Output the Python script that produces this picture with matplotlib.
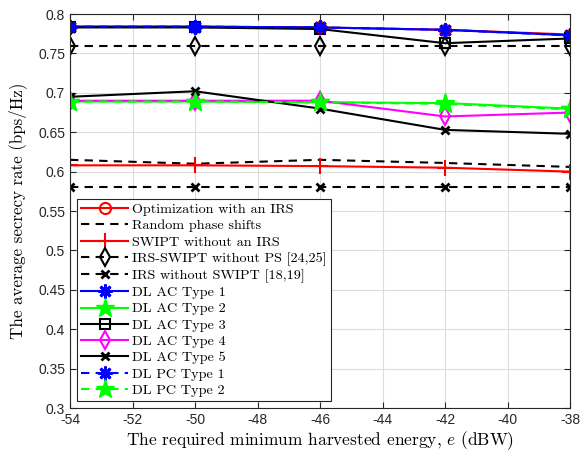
import matplotlib
matplotlib.use("Agg")
import matplotlib.pyplot as plt

# harvested energy e (dBW)
energy = [-54, -50, -46, -42, -38]

opt_irs = [0.784, 0.784, 0.783, 0.780, 0.774]
random_phase = [0.615, 0.610, 0.615, 0.611, 0.606]
swipt_no_irs = [0.608, 0.608, 0.607, 0.605, 0.600]
irs_swipt_no_ps = [0.760, 0.760, 0.760, 0.760, 0.760]
irs_no_swipt = [0.580, 0.580, 0.580, 0.580, 0.580]
dl_ac_1 = [0.784, 0.784, 0.783, 0.780, 0.773]
dl_ac_2 = [0.689, 0.689, 0.688, 0.687, 0.680]
dl_ac_3 = [0.783, 0.783, 0.781, 0.763, 0.769]
dl_ac_4 = [0.690, 0.690, 0.690, 0.670, 0.675]
dl_ac_5 = [0.695, 0.702, 0.680, 0.653, 0.648]
dl_pc_1 = [0.784, 0.784, 0.783, 0.780, 0.773]
dl_pc_2 = [0.689, 0.689, 0.688, 0.686, 0.679]

x_ticks = [-54, -52, -50, -48, -46, -44, -42, -40, -38]
y_ticks = [0.3, 0.35, 0.4, 0.45, 0.5, 0.55, 0.6, 0.65, 0.7, 0.75, 0.8]

plt.rcParams['font.family'] = ['Liberation Sans', 'DejaVu Sans']
plt.rcParams['mathtext.fontset'] = 'cm'

fig = plt.figure(figsize=(5.82, 4.53), dpi=100)
ax = fig.add_axes([0.1203, 0.0993, 0.8591, 0.8697])

lw = 1.5
dash = (0, (4, 3))
ast = (8, 2, 0)
ax.plot(energy, opt_irs, color='red', lw=lw, marker='o', ms=8, mfc='none', mew=1.5,
        label='Optimization with an IRS')
ax.plot(energy, random_phase, color='black', lw=lw, ls=dash,
        label='Random phase shifts')
ax.plot(energy, swipt_no_irs, color='red', lw=lw, marker='+', ms=12, mew=1.5,
        label='SWIPT without an IRS')
ax.plot(energy, irs_swipt_no_ps, color='black', lw=lw, ls=dash, marker='d', ms=9,
        mfc='none', mew=1.5, label='IRS-SWIPT without PS [24,25]')
ax.plot(energy, irs_no_swipt, color='black', lw=lw, ls=dash, marker='x', ms=6,
        mew=2, label='IRS without SWIPT [18,19]')
ax.plot(energy, dl_ac_1, color='blue', lw=lw, marker=ast, ms=10, mew=2,
        label='DL AC Type 1')
ax.plot(energy, dl_ac_2, color='#00ff00', lw=lw, marker='*', ms=14,
        label='DL AC Type 2')
ax.plot(energy, dl_ac_3, color='black', lw=lw, marker='s', ms=7, mfc='none', mew=1.5,
        label='DL AC Type 3')
ax.plot(energy, dl_ac_4, color='magenta', lw=lw, marker='d', ms=9, mfc='none', mew=1.5,
        label='DL AC Type 4')
ax.plot(energy, dl_ac_5, color='black', lw=lw, marker='x', ms=6, mew=2,
        label='DL AC Type 5')
ax.plot(energy, dl_pc_1, color='blue', lw=lw, ls=dash, marker=ast, ms=10, mew=2,
        label='DL PC Type 1')
ax.plot(energy, dl_pc_2, color='#00ff00', lw=lw, ls=dash, marker='*', ms=14,
        label='DL PC Type 2')

ax.set_xlim(-54, -38)
ax.set_ylim(0.3, 0.8)
ax.set_xticks(x_ticks)
ax.set_yticks(y_ticks)
ax.set_xticklabels([str(t) for t in x_ticks])
ax.set_yticklabels(['%g' % t for t in y_ticks])
ax.tick_params(labelsize=10, direction='in', length=4, top=True, right=True,
               colors='#262626', labelcolor='#262626')
ax.grid(True, color='#dcdcdc', lw=0.8)
ax.set_axisbelow(True)
for s in ax.spines.values():
    s.set_color('#262626')

ax.set_xlabel('The required minimum harvested energy, $e$ (dBW)',
              family='cmr10', fontsize=12.5, labelpad=2)
ax.set_ylabel('The average secrecy rate (bps/Hz)', family='cmr10', fontsize=12.2, labelpad=8)

leg = ax.legend(loc='lower left', bbox_to_anchor=(0.014, 0.017), prop={'family': 'cmr10', 'size': 10.2},
                handlelength=3.3, handletextpad=0.3, labelspacing=0.24, borderpad=0.3,
                fancybox=False, framealpha=1, edgecolor='#262626', borderaxespad=0)
leg.get_frame().set_linewidth(0.8)

plt.savefig('out.png', dpi=100)
